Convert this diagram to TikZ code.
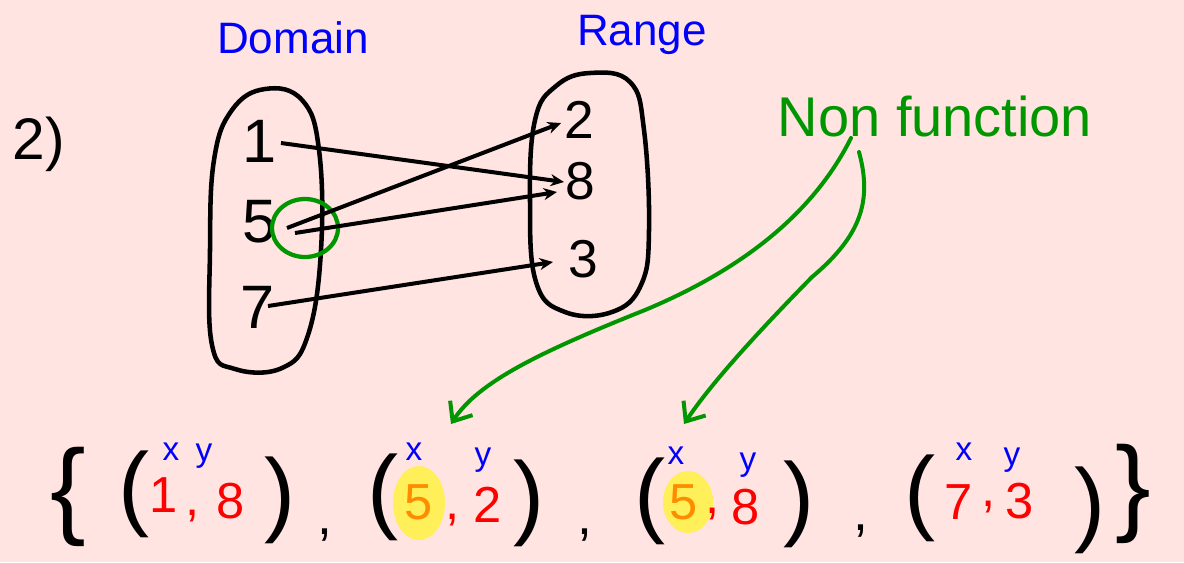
\documentclass[tikz,border=0pt]{standalone}
\usepackage{fontspec}
\setmainfont{Liberation Sans}
\usetikzlibrary{arrows.meta,calc}
\newcommand\myfs[1]{\fontsize{#1}{#1}\selectfont}
\definecolor{bgpink}{RGB}{255,228,225}
\definecolor{pen}{RGB}{0,0,0}
\definecolor{bluepen}{RGB}{0,0,255}
\definecolor{greenpen}{RGB}{0,150,0}
\definecolor{redpen}{RGB}{255,0,0}
\definecolor{orangepen}{RGB}{255,140,0}
\definecolor{hl}{RGB}{255,240,90}
\tikzset{
  t/.style={inner sep=0pt,anchor=center},
  dig/.style={t,font=\myfs{46}},
  rdig/.style={t,font=\myfs{40}},
  lbl/.style={t,text=bluepen,font=\myfs{33}},
  pr/.style={t,font=\myfs{70}},
  br/.style={t,font=\myfs{80}},
  pv/.style={t,text=redpen,font=\myfs{38}},
  po/.style={t,text=orangepen,font=\myfs{38}},
  xy/.style={t,text=bluepen,font=\myfs{25}},
  oval/.style={draw=pen,line width=3.4pt,line join=round},
  arr/.style={draw=pen,line width=3pt,-{Stealth[length=10pt,width=9pt]}},
  garr/.style={draw=greenpen,line width=3pt,line cap=round,-{Straight Barb[length=12pt,width=20pt]}},
}
\begin{document}
\begin{tikzpicture}[x=0.75pt,y=-0.75pt]
\fill[bgpink] (0,0) rectangle (1184,562);
\useasboundingbox (0,0) rectangle (1184,562);

% problem number
\node[t,font=\myfs{44}] (num) at (39,144) {2)};

% labels
\node[lbl] (dom) at (293,38) {Domain};
\node[lbl] (ran) at (642,35) {Range};

% ovals
\draw[oval] plot[smooth cycle,tension=0.7] coordinates {(265,89) (302,100) (319,150) (321,250) (308,335) (282,368) (235,369) (212,345) (210,250) (214,160) (232,110)};
\draw[oval] plot[smooth cycle,tension=0.7] coordinates {(590,73) (630,82) (644,130) (649,230) (641,285) (612,312) (565,312) (536,282) (530,200) (535,120) (556,86)};

% domain elements
\node[dig] (d1) at (260,141) {1};
\node[dig] (d5) at (260,222) {5};
\node[dig] (d7) at (258,307) {7};
\draw[greenpen,line width=3.2pt] (305,228) ellipse (33 and 29);

% range elements
\node[rdig] (r2) at (579,120) {2};
\node[rdig] (r8) at (580,181) {8};
\node[rdig] (r3) at (583,259) {3};

% mapping arrows
\draw[arr] ($(d1)+(21,2)$) -- ($(r8)+(-16,1)$);
\draw[arr] ($(d5)+(27,6)$) -- ($(r2)+(-18,3)$);
\draw[arr] ($(d5)+(35,11)$) -- ($(r8)+(-23,11)$);
\draw[arr] ($(d7)+(10,-1)$) -- ($(r3)+(-30,3)$);

% non function
\node[t,text=greenpen,font=\myfs{42}] (nf) at (935,116) {Non function};

% set of ordered pairs
\node[br] (lb) at (68,497) {\{};
\node[pr] (p1l) at (134,494) {(};
\node[xy] (x1) at (171,452) {x};
\node[xy] (y1) at (204,456) {y};
\node[pv] (a1) at (164,495) {1};
\node[pv] (c1) at (193,516) {,};
\node[pv] (b1) at (231,501) {8};
\node[pr] (p1r) at (280,500) {)};
\node[t,font=\myfs{40}] (k1) at (325,535) {,};

\fill[hl] (419,503) ellipse (26 and 37);
\node[pr] (p2l) at (383,497) {(};
\node[xy] (x2) at (414,452) {x};
\node[xy] (y2) at (483,460) {y};
\node[po] (a2) at (419,502) {5};
\node[pv] (c2) at (453,520) {,};
\node[pv] (b2) at (488,505) {2};
\node[pr] (p2r) at (529,503) {)};
\node[t,font=\myfs{40}] (k2) at (585,535) {,};

\fill[hl] (688,502) ellipse (25 and 31);
\node[pr] (p3l) at (650,501) {(};
\node[xy] (x3) at (676,456) {x};
\node[xy] (y3) at (748,465) {y};
\node[po] (a3) at (684,502) {5};
\node[pv] (c3) at (713,514) {,};
\node[pv] (b3) at (746,507) {8};
\node[pr] (p3r) at (799,504) {)};
\node[t,font=\myfs{40}] (k3) at (861,531) {,};

\node[pr] (p4l) at (920,498) {(};
\node[xy] (x4) at (964,452) {x};
\node[xy] (y4) at (1012,460) {y};
\node[pv] (a4) at (959,502) {7};
\node[pv] (c4) at (989,507) {,};
\node[pv] (b4) at (1020,501) {3};
\node[pr] (p4r) at (1090,510) {)};
\node[br] (rb) at (1133,494) {\}};

% green pointers
\draw[garr] ($(nf)+(-84,22)$) .. controls (820,200) and (760,262) .. (645,310)
   .. controls (540,352) and (478,382) .. ($(x2)+(37,-28)$);
\draw[garr] ($(nf)+(-76,36)$) .. controls (872,200) and (862,235) .. (812,277)
   .. controls (760,330) and (712,382) .. ($(x3)+(8,-32)$);
\end{tikzpicture}
\end{document}
